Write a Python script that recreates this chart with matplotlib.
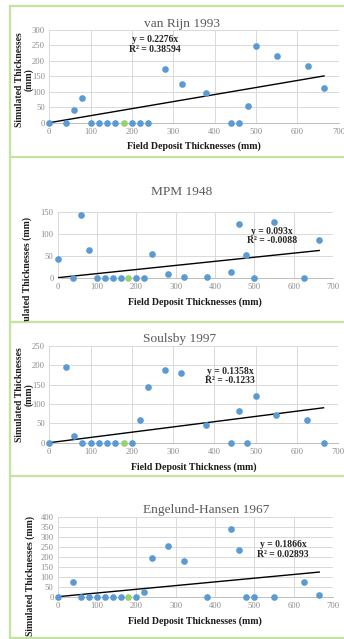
import matplotlib
matplotlib.use("Agg")
import matplotlib.pyplot as plt
from matplotlib.lines import Line2D
import matplotlib.transforms as mtransforms

# ---------------- data ----------------
x_field = [0, 40, 60, 80, 100, 120, 140, 160, 200, 220, 240, 280, 320, 380,
           440, 460, 480, 500, 550, 625, 665]
y_vanrijn = [0, 0, 41, 81, 0, 0, 0, 0, 0, 0, 0, 174, 126, 96, 0, 0, 54, 249, 217, 185, 111]
y_mpm = [43, 0, 143, 64, 0, 0, 0, 0, 0, 0, 54, 8, 2, 2, 13, 121, 52, 0, 126, 0, 86]
y_soulsby = [0, 197, 18, 0, 0, 0, 0, 0, 0, 59, 145, 187, 179, 45, 0, 82, 0, 120, 71, 59, 0]
y_engelund = [0, 72, 0, 0, 0, 0, 0, 0, 0, 22, 193, 254, 180, 0, 339, 234, 0, 0, 0, 74, 7]
highlight_x = [180]
highlight_y = [0]

titles = ["van Rijn 1993", "MPM 1948", "Soulsby 1997", "Engelund-Hansen 1967"]
slopes = [0.2276, 0.093, 0.1358, 0.1866]
r2_labels = ["0.38594", "-0.0088", "-0.1233", "0.02893"]
xlabels = ["Field Deposit Thicknesses (mm)", "Field Deposit Thicknesses (mm)",
           "Field Deposit Thickness (mm)", "Field Deposit Thicknesses (mm)"]
ymaxes = [300, 150, 250, 400]
series = [y_vanrijn, y_mpm, y_soulsby, y_engelund]
trend_x_end = 665

# ---------------- layout (pixels) ----------------
W, H = 344, 639
fig = plt.figure(figsize=(W / 100, H / 100), dpi=100)
fig.patch.set_facecolor("white")

FONT = "Liberation Serif"
BLUE = "#5B9BD5"
GREEN = "#9BD06A"
BORDER = "#C3E39E"


def fx(x):
    return x / W


def fy(y):
    return 1 - y / H


# axes boxes: left, right, top, bottom (px)
boxes = [(49.3, 338.5, 30.0, 122.7),
         (57.7, 333.0, 211.7, 277.7),
         (49.3, 338.0, 346.0, 442.7),
         (57.7, 333.0, 517.3, 596.7)]
title_pos = [(182, 24), (182, 192), (180, 339), (206, 510)]
eq_pos = [(155, 44.5), (272, 236), (230, 376), (283, 549.5)]
xlabel_y = [146, 302, 466.7, 621]
ylabel_specs = [  # text, x, y center
    ("Simulated Thicknesses\n(mm)", 24, 79.5),
    ("Simulated Thicknesses (mm)", 27, 277),
    ("Simulated Thicknesses\n(mm)", 24, 395),
    ("Simulated Thicknesses (mm)", 30, 576),
]
panel_bounds = [(6, 157), (157, 322), (322, 476), (476, 639)]

for i in range(4):
    l, r, t, b = boxes[i]
    ax = fig.add_axes([fx(l), fy(b), fx(r) - fx(l), fy(t) - fy(b)])
    ax.set_xlim(0, 700)
    ax.set_ylim(0, ymaxes[i])
    ax.set_xticks(range(0, 701, 100))
    ax.set_yticks(range(0, ymaxes[i] + 1, 50))
    ax.grid(True, color="#D9D9D9", linewidth=0.7)
    ax.set_axisbelow(True)
    for s in ["top", "right", "left"]:
        ax.spines[s].set_visible(False)
    ax.spines["bottom"].set_color("#BFBFBF")
    ax.spines["bottom"].set_linewidth(0.7)
    ax.tick_params(length=0, pad=3, labelsize=6.2, colors="#8C8C8C")
    for lab in ax.get_xticklabels() + ax.get_yticklabels():
        lab.set_fontfamily(FONT)
    ax.tick_params(axis="x", pad=4)

    # trendline
    ax.plot([0, trend_x_end], [0, slopes[i] * trend_x_end], color="black",
            linewidth=1.0, zorder=2)
    ax.plot(x_field, series[i], "o", color=BLUE, markersize=4.8,
            markeredgewidth=0, zorder=3, clip_on=False)
    ax.plot(highlight_x, highlight_y, "o", color=GREEN, markersize=4.8,
            markeredgewidth=0, zorder=3, clip_on=False)

    # title
    fig.text(fx(title_pos[i][0]), fy(title_pos[i][1]), titles[i], ha="center",
             va="center", fontsize=9.6, color="#595959", family=FONT)
    # equation
    fig.text(fx(eq_pos[i][0]), fy(eq_pos[i][1]),
             "y = %sx\nR² = %s" % (("%g" % slopes[i]), r2_labels[i]),
             ha="center", va="center", fontsize=6.9, fontweight="bold",
             color="#262626", family=FONT, linespacing=1.05)
    # x label
    cx = (l + r) / 2
    fig.text(fx(cx), fy(xlabel_y[i]), xlabels[i], ha="center", va="center",
             fontsize=7.1, fontweight="bold", color="#1A1A1A", family=FONT)
    # y label, clipped to the panel
    txt, yx, yy = ylabel_specs[i]
    t_art = fig.text(fx(yx), fy(yy), txt, ha="center", va="center",
                     rotation=90, fontsize=7.0, fontweight="bold",
                     color="#1A1A1A", family=FONT, linespacing=1.0,
                     multialignment="center")
    pt, pb = panel_bounds[i]
    clipbox = mtransforms.TransformedBbox(
        mtransforms.Bbox([[fx(10), fy(pb)], [fx(343), fy(pt)]]), fig.transFigure)
    t_art.set_clip_box(clipbox)
    t_art.set_clip_on(True)

# green panel borders
lw_border = 1.6
fig.add_artist(Line2D([fx(9.5), fx(9.5)], [fy(6), fy(639)], color=BORDER,
                      linewidth=lw_border, transform=fig.transFigure))
for yy in [6, 157, 322, 476, 638]:
    fig.add_artist(Line2D([fx(9.5), fx(343)], [fy(yy), fy(yy)], color=BORDER,
                          linewidth=lw_border, transform=fig.transFigure))

fig.savefig("out.png", dpi=100)
